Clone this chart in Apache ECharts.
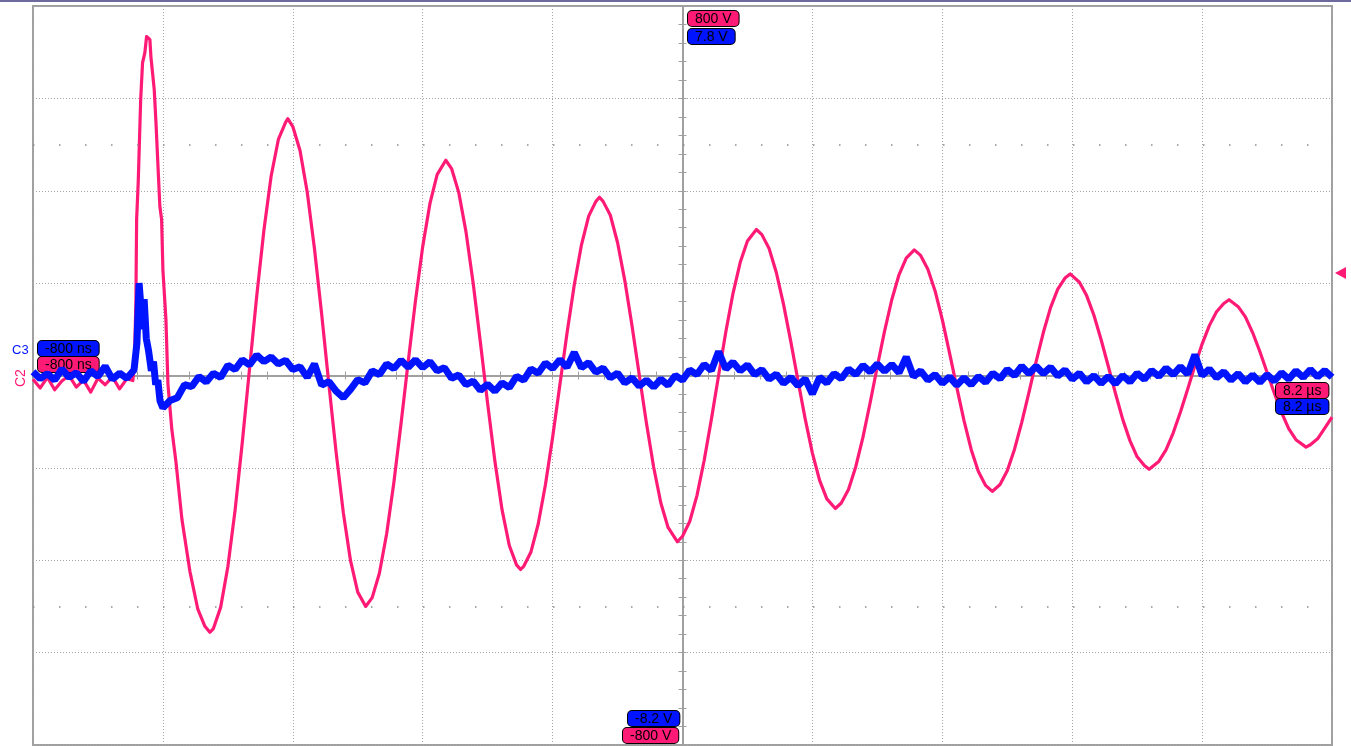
<!DOCTYPE html>
<html>
<head>
<meta charset="utf-8">
<script src="https://cdn.jsdelivr.net/npm/echarts@6/dist/echarts.min.js"></script>
<style>
html,body{margin:0;padding:0;background:#fff;}
#c{width:1351px;height:746px;}
</style>
</head>
<body>
<div id="c"></div>
<script>
// ---- data (time in µs, pink channel in V, blue channel in V) ----
const timeRange = [-0.8, 8.2];
const pinkRange = [-800, 800];
const blueRange = [-8.2, 7.8];
const timeLabels = ['-800 ns', '8.2 µs'];
const pinkLabels = ['800 V', '-800 V'];
const blueLabels = ['7.8 V', '-8.2 V'];
const channelNames = ['C3', 'C2'];

const pinkTrace = [
[-0.8,-8],[-0.75,-27],[-0.7,-4],[-0.65,-31],[-0.6,-12],[-0.55,0],[-0.5,-25],[-0.45,-10],[-0.4,-36],[-0.35,-6],[-0.3,-20],[-0.25,-3],[-0.2,-29],[-0.15,-7],
[-0.108,-11],[-0.097,35],[-0.087,164],[-0.082,338],[-0.071,418],[-0.054,597],[-0.041,677],[-0.025,699],[-0.013,734],[0,736],[0.01,727],[0.017,690],[0.04,619],[0.052,548],[0.067,446],[0.079,366],[0.091,338],[0.1,229],[0.121,121],[0.135,-19],[0.162,-117],[0.19,-186],[0.232,-312],[0.287,-424],[0.342,-506],[0.391,-543],[0.425,-556],
[0.45,-548],[0.5,-502],[0.55,-414],[0.6,-292],[0.65,-145],[0.7,14],[0.75,172],[0.8,315],[0.85,432],[0.9,511],[0.95,548],[0.965,556],
[1.0,539],[1.05,487],[1.1,397],[1.15,275],[1.2,133],[1.25,-19],[1.3,-166],[1.35,-297],[1.4,-401],[1.45,-469],[1.505,-500],
[1.55,-481],[1.6,-428],[1.65,-343],[1.7,-232],[1.75,-104],[1.8,31],[1.85,162],[1.9,279],[1.95,372],[2.0,435],[2.06,466],
[2.1,448],[2.15,396],[2.2,311],[2.25,199],[2.3,71],[2.35,-61],[2.4,-185],[2.45,-291],[2.5,-368],[2.55,-410],[2.578,-420],
[2.6,-413],[2.65,-382],[2.7,-322],[2.75,-237],[2.8,-134],[2.85,-21],[2.9,92],[2.95,196],[3.0,283],[3.05,345],[3.1,377],[3.125,386],
[3.15,377],[3.2,347],[3.25,288],[3.3,206],[3.35,108],[3.4,2],[3.45,-103],[3.5,-198],[3.55,-276],[3.6,-329],[3.665,-360],
[3.7,-348],[3.75,-316],[3.8,-260],[3.85,-184],[3.9,-95],[3.95,0],[4.0,94],[4.05,178],[4.1,245],[4.15,291],[4.212,316],
[4.25,305],[4.3,275],[4.35,223],[4.4,154],[4.45,74],[4.5,-11],[4.55,-94],[4.6,-168],[4.65,-227],[4.7,-267],[4.759,-288],
[4.8,-276],[4.85,-247],[4.9,-198],[4.95,-134],[5.0,-59],[5.05,20],[5.1,96],[5.15,164],[5.2,218],[5.25,254],[5.306,272],
[5.35,260],[5.4,230],[5.45,183],[5.5,121],[5.55,49],[5.6,-25],[5.65,-97],[5.7,-160],[5.75,-208],[5.8,-238],[5.846,-251],
[5.9,-236],[5.95,-206],[6.0,-160],[6.05,-102],[6.1,-37],[6.15,30],[6.2,93],[6.25,147],[6.3,187],[6.35,211],[6.386,220],
[6.45,202],[6.5,173],[6.55,131],[6.6,78],[6.65,20],[6.7,-39],[6.75,-95],[6.8,-141],[6.85,-176],[6.9,-195],[6.933,-203],
[7.0,-186],[7.05,-161],[7.1,-124],[7.15,-79],[7.2,-30],[7.25,21],[7.3,68],[7.35,108],[7.4,138],[7.45,156],[7.487,164],
[7.55,149],[7.6,127],[7.65,93],[7.7,52],[7.75,7],[7.8,-38],[7.85,-80],[7.9,-115],[7.95,-139],[8.02,-155],
[8.05,-150],[8.1,-137],[8.15,-114],[8.2,-90]
];

const blueTrace = [
[-0.8,-0.12],[-0.75,-0.27],[-0.7,-0.16],[-0.65,-0.3],[-0.6,-0.06],[-0.55,-0.24],[-0.5,-0.14],[-0.45,-0.33],[-0.4,-0.1],[-0.35,-0.22],[-0.3,0.0],[-0.25,-0.28],[-0.2,-0.15],[-0.15,-0.26],[-0.1,-0.08],
[-0.08,0.5],[-0.065,1.8],[-0.05,1.2],[-0.04,0.8],[-0.03,1.45],[-0.015,0.6],[0,0.35],[0.02,-0.1],[0.035,0.1],[0.05,-0.4],[0.065,-0.3],[0.08,-0.75],[0.1,-0.9],
[0.15,-0.74],[0.2,-0.68],[0.25,-0.4],[0.3,-0.44],[0.35,-0.22],[0.4,-0.34],[0.45,-0.15],[0.5,-0.24],[0.55,0.02],[0.6,-0.07],[0.65,0.14],[0.7,0.03],[0.75,0.24],[0.8,0.1],[0.85,0.2],[0.9,0.05],[0.95,0.13],
[1.0,-0.07],[1.05,-0.01],[1.1,-0.24],[1.15,0.05],[1.2,-0.41],[1.25,-0.33],[1.3,-0.54],[1.35,-0.68],[1.4,-0.5],[1.45,-0.29],[1.5,-0.36],[1.55,-0.1],[1.6,-0.18],[1.65,0.05],[1.7,-0.05],[1.75,0.13],[1.8,-0.02],[1.85,0.14],[1.9,-0.03],[1.95,0.1],
[2.0,-0.1],[2.05,-0.03],[2.1,-0.26],[2.15,-0.19],[2.2,-0.4],[2.25,-0.32],[2.3,-0.52],[2.35,-0.39],[2.4,-0.54],[2.45,-0.36],[2.5,-0.46],[2.55,-0.22],[2.6,-0.3],[2.65,-0.06],[2.7,-0.15],[2.75,0.07],[2.8,-0.05],[2.85,0.14],[2.9,-0.02],[2.95,0.3],
[3.0,-0.03],[3.05,0.08],[3.1,-0.13],[3.15,-0.04],[3.2,-0.25],[3.25,-0.15],[3.3,-0.36],[3.35,-0.25],[3.4,-0.43],[3.45,-0.3],[3.5,-0.45],[3.55,-0.28],[3.6,-0.41],[3.65,-0.2],[3.7,-0.3],[3.75,-0.08],[3.8,-0.18],[3.85,0.04],[3.9,-0.09],[3.95,0.32],
[4.0,-0.06],[4.05,0.09],[4.1,-0.1],[4.15,0.03],[4.2,-0.18],[4.25,-0.07],[4.3,-0.28],[4.35,-0.17],[4.4,-0.37],[4.45,-0.24],[4.5,-0.42],[4.55,-0.27],[4.6,-0.6],[4.65,-0.24],[4.7,-0.36],[4.75,-0.16],[4.8,-0.27],[4.85,-0.06],[4.9,-0.18],[4.95,0.02],
[5.0,-0.12],[5.05,0.05],[5.1,-0.11],[5.15,0.04],[5.2,-0.14],[5.25,0.2],[5.3,-0.22],[5.35,-0.1],[5.4,-0.3],[5.45,-0.18],[5.5,-0.37],[5.55,-0.23],[5.6,-0.41],[5.65,-0.25],[5.7,-0.4],[5.75,-0.22],[5.8,-0.35],[5.85,-0.15],[5.9,-0.27],[5.95,-0.07],
[6.0,-0.2],[6.05,0.0],[6.1,-0.16],[6.15,0.0],[6.2,-0.16],[6.25,-0.02],[6.3,-0.21],[6.35,-0.08],[6.4,-0.28],[6.45,-0.15],[6.5,-0.34],[6.55,-0.2],[6.6,-0.37],[6.65,-0.22],[6.7,-0.38],[6.75,-0.2],[6.8,-0.34],[6.85,-0.15],[6.9,-0.28],[6.95,-0.09],
[7.0,-0.22],[7.05,-0.04],[7.1,-0.18],[7.15,-0.01],[7.2,-0.17],[7.25,0.25],[7.3,-0.2],[7.35,-0.06],[7.4,-0.25],[7.45,-0.12],[7.5,-0.3],[7.55,-0.16],[7.6,-0.34],[7.65,-0.19],[7.7,-0.35],[7.75,-0.18],[7.8,-0.32],[7.85,-0.14],[7.9,-0.28],[7.95,-0.1],
[8.0,-0.24],[8.05,-0.07],[8.1,-0.23],[8.15,-0.09],[8.2,-0.24]
];

// ---- styles ----
const PINK = '#ff1a76';
const BLUE = '#0014ff';
const GRID_GREY = '#a6a6a6';
const AXIS_GREY = '#a0a0a0';
const FONT = '14px "Liberation Sans", Arial, sans-serif';

const chart = echarts.init(document.getElementById('c'), null, {renderer: 'canvas'});

function box(x, y, text, color, z) {
  return {
    type: 'text', left: x, top: y, z: z,
    style: {
      text: text, fill: '#000', font: FONT, lineHeight: 14,
      backgroundColor: color, borderColor: '#000', borderWidth: 1,
      borderRadius: 4, padding: [1, 7, 0, 7]
    }
  };
}

const tickAxisX = (inside) => ({
  type: 'value', min: -5, max: 5, interval: 0.2, gridIndex: 0,
  axisLine: {show: true, onZero: true, onZeroAxisIndex: 2, lineStyle: {color: AXIS_GREY, width: 2}},
  axisTick: {show: true, inside: inside, length: 4, lineStyle: {color: AXIS_GREY, width: 1}},
  axisLabel: {show: false}, splitLine: {show: false}
});
const tickAxisY = (inside) => ({
  type: 'value', min: -4, max: 4, interval: 0.2, gridIndex: 0,
  axisLine: {show: true, onZero: true, onZeroAxisIndex: 1, lineStyle: {color: AXIS_GREY, width: 2}},
  axisTick: {show: true, inside: inside, length: 4, lineStyle: {color: AXIS_GREY, width: 1}},
  axisLabel: {show: false}, splitLine: {show: false}
});

const option = {
  animation: false,
  backgroundColor: '#fff',
  grid: {left: 33, top: 6, right: 19, bottom: 1, show: true, borderColor: AXIS_GREY, borderWidth: 2, backgroundColor: '#fff'},
  xAxis: [
    {type: 'value', min: timeRange[0], max: timeRange[1], show: false},
    {type: 'value', min: -5, max: 5, interval: 1, position: 'bottom',
      axisLine: {show: false}, axisTick: {show: false}, axisLabel: {show: false},
      splitLine: {show: true, lineStyle: {color: GRID_GREY, type: [1, 2], width: 1}}},
    tickAxisX(true),
    tickAxisX(false)
  ],
  yAxis: [
    {type: 'value', min: pinkRange[0], max: pinkRange[1], show: false},
    {type: 'value', min: blueRange[0], max: blueRange[1], show: false},
    {type: 'value', min: -4, max: 4, interval: 1,
      axisLine: {show: false}, axisTick: {show: false}, axisLabel: {show: false},
      splitLine: {show: true, lineStyle: {color: GRID_GREY, type: [1, 2], width: 1}}},
    tickAxisY(true),
    tickAxisY(false)
  ],
  series: [
    {
      type: 'line', name: 'C2', xAxisIndex: 0, yAxisIndex: 0, data: pinkTrace,
      showSymbol: false, symbol: 'none', z: 3,
      lineStyle: {color: PINK, width: 3.2, join: 'round'},
      markLine: {
        silent: true, symbol: 'none', label: {show: false},
        lineStyle: {color: '#8c8c8c', type: [1.5, 24.5], width: 1.5},
        data: [{yAxis: 500}, {yAxis: -500}]
      }
    },
    {
      type: 'line', name: 'C3', xAxisIndex: 0, yAxisIndex: 1, data: blueTrace,
      showSymbol: false, symbol: 'none', z: 5,
      lineStyle: {color: BLUE, width: 7, join: 'bevel'}
    }
  ],
  graphic: [
    {type: 'rect', left: 0, top: 0, z: 10, shape: {width: 1351, height: 2}, style: {fill: '#6e6a9e'}},
    box(37, 340, timeLabels[0], BLUE, 4),
    box(37, 356, timeLabels[0], PINK, 4),
    box(687, 10, pinkLabels[0], PINK, 6),
    box(687, 28, blueLabels[0], BLUE, 6),
    box(627, 710, blueLabels[1], BLUE, 6),
    box(622, 727, pinkLabels[1], PINK, 6),
    box(1275, 382, timeLabels[1], PINK, 4),
    box(1275, 398, timeLabels[1], BLUE, 6),
    {type: 'text', left: 12, top: 344, z: 6, style: {text: channelNames[0], fill: BLUE, font: '13px "Liberation Sans", Arial, sans-serif'}},
    {type: 'text', x: 14, y: 387, rotation: Math.PI / 2, z: 6, style: {text: channelNames[1], fill: PINK, font: '14px "Liberation Sans", Arial, sans-serif'}},
    {type: 'polygon', z: 6, shape: {points: [[1335, 273], [1346, 267], [1346, 279]]}, style: {fill: PINK}}
  ]
};
chart.setOption(option);
</script>
</body>
</html>
